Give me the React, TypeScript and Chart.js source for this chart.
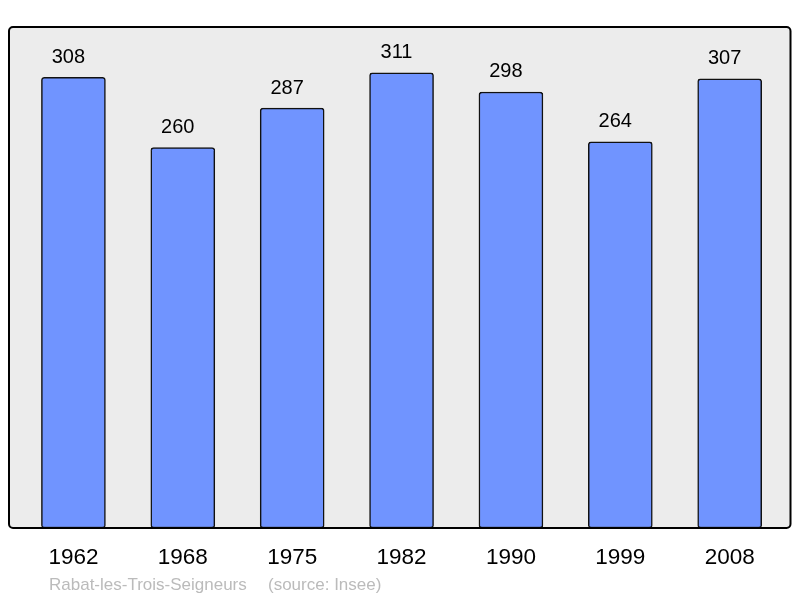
import React, { useEffect, useRef } from "react";
import { Chart, registerables } from "chart.js";

Chart.register(...registerables);

const years = ["1962", "1968", "1975", "1982", "1990", "1999", "2008"];
const population = [308, 260, 287, 311, 298, 264, 307];
const captionPlace = "Rabat-les-Trois-Seigneurs";
const captionSource = "(source: Insee)";

const FONT = "'Liberation Sans', Arial, sans-serif";

const boxPlugin = {
  id: "boxPlugin",
  beforeDatasetsDraw(chart: any) {
    const { ctx, chartArea } = chart;
    const { left, top, right, bottom } = chartArea;
    ctx.save();
    ctx.beginPath();
    if (ctx.roundRect) ctx.roundRect(left, top, right - left, bottom - top, 4);
    else ctx.rect(left, top, right - left, bottom - top);
    ctx.fillStyle = "#ececec";
    ctx.fill();
    ctx.restore();
  },
  afterDatasetsDraw(chart: any) {
    const { ctx, chartArea } = chart;
    const { left, top, right, bottom } = chartArea;
    const meta = chart.getDatasetMeta(0);
    ctx.save();
    ctx.font = `20px ${FONT}`;
    ctx.fillStyle = "#000";
    ctx.textAlign = "center";
    ctx.textBaseline = "alphabetic";
    meta.data.forEach((bar: any, i: number) => {
      ctx.fillText(String(population[i]), bar.x - 5, bar.y - 14.5);
    });
    ctx.beginPath();
    if (ctx.roundRect) ctx.roundRect(left, top, right - left, bottom - top, 4);
    else ctx.rect(left, top, right - left, bottom - top);
    ctx.lineWidth = 2;
    ctx.strokeStyle = "#000";
    ctx.stroke();
    ctx.fillStyle = "#bbbbbb";
    ctx.textAlign = "left";
    ctx.font = `17px ${FONT}`;
    ctx.fillText(captionPlace, 49, 590);
    ctx.fillText(captionSource, 268, 590);
    ctx.restore();
  },
};

export default function App() {
  const ref = useRef<HTMLCanvasElement>(null);
  useEffect(() => {
    if (!ref.current) return;
    const chart = new Chart(ref.current, {
      type: "bar",
      data: {
        datasets: [
          {
            data: population.map((v, i) => ({ x: i, y: v })),
            backgroundColor: "#7094ff",
            borderColor: "#111",
            borderWidth: 1.5,
            borderRadius: 3,
            borderSkipped: false,
            barThickness: 64,
          },
        ],
      },
      options: {
        responsive: false,
        animation: false,
        layout: { padding: { left: 9, right: 9.5, top: 27, bottom: 0 } },
        plugins: { legend: { display: false }, tooltip: { enabled: false } },
        scales: {
          x: {
            type: "linear",
            offset: false,
            min: -0.589,
            max: 6.556,
            grid: { display: false, drawTicks: false },
            border: { display: false },
            afterBuildTicks: (scale: any) => {
              scale.ticks = years.map((_, i) => ({ value: i }));
            },
            afterFit: (scale: any) => {
              scale.height = 70;
            },
            ticks: {
              padding: 16,
              autoSkip: false,
              maxRotation: 0,
              color: "#000",
              font: { size: 22.5, family: FONT },
              callback: (v: any) => years[Math.round(Number(v))] ?? "",
            },
          },
          y: {
            display: false,
            min: 0,
            max: 342.4,
          },
        },
      },
      plugins: [boxPlugin],
    });
    return () => chart.destroy();
  }, []);
  return (
    <div style={{ position: "fixed", left: 0, top: 0, width: 800, height: 598, background: "#fff" }}>
      <canvas ref={ref} width={800} height={598} />
    </div>
  );
}
